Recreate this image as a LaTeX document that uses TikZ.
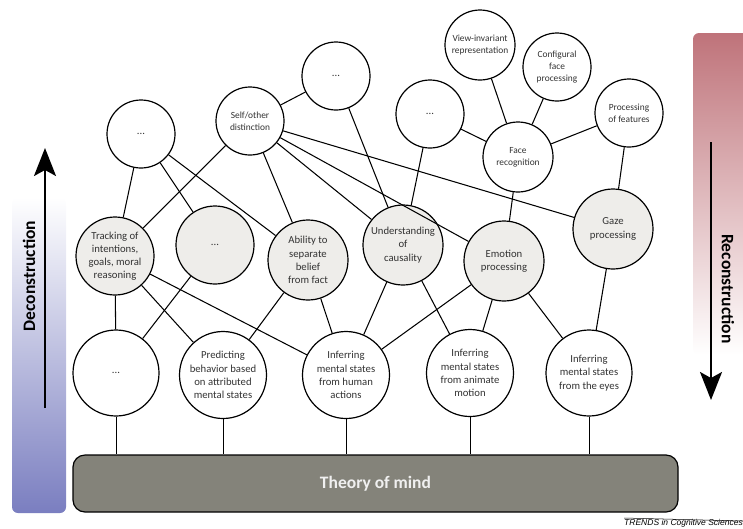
\documentclass[tikz,border=0pt]{standalone}
\usepackage{fontspec}
\setmainfont{Carlito}
\newfontfamily\trendsfont{Liberation Sans}
\usetikzlibrary{arrows.meta}
\definecolor{greyfill}{HTML}{EEEDEA}
\definecolor{boxfill}{HTML}{84837A}
\definecolor{leftblue}{HTML}{7A7EC0}
\definecolor{rightred}{HTML}{BF737A}
\definecolor{txt}{HTML}{333333}
\tikzset{
  nd/.style={circle, draw=black, line width=1.2pt, inner sep=0pt, align=center,
    text=txt, font=\fontsize{10.7}{13.2}\selectfont},
  wn/.style={nd, fill=white},
  gn/.style={nd, fill=greyfill},
  sm/.style={font=\fontsize{9.4}{12.3}\selectfont},
  edge/.style={line width=1.05pt},
  thinedge/.style={line width=0.9pt},
  bigarrow/.style={line width=2pt, -{Stealth[length=28pt, width=22pt, inset=6pt]}},
  sidetext/.style={font=\fontsize{17.5}{20}\selectfont\bfseries, text=black},
}
\begin{document}
\begin{tikzpicture}[x=1pt, y=-1pt]
\useasboundingbox (0,0) rectangle (743,528);
% side bars
\shade[top color=white, bottom color=leftblue, rounded corners=6pt] (12,197) rectangle (66,513);
\shade[top color=rightred, bottom color=white, rounded corners=6pt] (693,33) rectangle (752,355);
\draw[bigarrow] (45,408) -- (45,148);
\draw[bigarrow] (711,142) -- (711,400);
\node[sidetext, rotate=90] (dec) at (29,276) {Deconstruction};
\node[sidetext, rotate=-90] (rec) at (728,289) {Reconstruction};

% top level
\node[wn, minimum size=68pt] (dots1) at (141,134) {...};
\node[wn, sm, minimum size=68pt] (self) at (250,121) {Self/other\\distinction};
\node[wn, minimum size=68pt] (dots2) at (336,76) {...};
\node[wn, minimum size=68pt] (dots3) at (430,114) {...};
\node[wn, sm, minimum size=70pt] (view) at (480,45) {View-invariant\\representation};
\node[wn, sm, minimum size=68pt] (conf) at (557,67) {Configural\\face\\processing};
\node[wn, sm, minimum size=68pt] (feat) at (629,113) {Processing\\of features};
\node[wn, sm, minimum size=70pt] (face) at (518,157) {Face\\recognition};

% middle level
\node[gn, minimum size=78pt] (track) at (115,256) {Tracking of\\intentions,\\goals, moral\\reasoning};
\node[gn, minimum size=78pt] (gdots) at (215,245) {...};
\node[gn, minimum size=80pt] (abil) at (308,260) {Ability to\\separate\\belief\\from fact};
\node[gn, minimum size=80pt] (under) at (403,245) {Understanding\\of\\causality};
\node[gn, minimum size=80pt] (emo) at (504,261) {Emotion\\processing};
\node[gn, minimum size=80pt] (gaze) at (613,229) {Gaze\\processing};

% bottom level
\node[wn, minimum size=86pt] (dots4) at (116,373) {...};
\node[wn, minimum size=87pt] (pred) at (223,375) {Predicting\\behavior based\\on attributed\\mental states};
\node[wn, minimum size=87pt] (human) at (346,375) {Inferring\\mental states\\from human\\actions};
\node[wn, minimum size=87pt] (anim) at (470,373) {Inferring\\mental states\\from animate\\motion};
\node[wn, minimum size=86pt] (eyes) at (589,373) {Inferring\\mental states\\from the eyes};

% theory of mind
\node[draw=black, line width=1.2pt, fill=boxfill, rounded corners=12pt, minimum width=605pt,
  minimum height=57pt, inner sep=0pt, text=white!94!black,
  font=\fontsize{17.5}{20}\selectfont\bfseries] (tom) at (375.5,483.5) {Theory of mind};

% edges
\foreach \a/\b in {dots1/track, dots1/gdots, dots1/abil,
  self/track, self/abil, self/dots2, self/under, self/emo, self/gaze,
  dots2/under, dots3/under, dots3/face,
  face/view, face/conf, face/feat, face/emo, feat/gaze,
  track/dots4, track/pred, track/human, gdots/dots4,
  abil/pred, abil/human, under/human, under/anim,
  emo/human, emo/anim, emo/eyes, gaze/eyes}
  \draw[edge] (\a) -- (\b);
\foreach \a in {dots4, pred, human, anim, eyes}
  \draw[thinedge] (\a) -- (\a |- tom.north);

% credit
\node[anchor=north east, inner sep=0pt, font=\trendsfont\itshape\fontsize{8.5}{10}\selectfont] (cred) at (743,519.5) {TRENDS in Cognitive Sciences};
\draw[line width=0.5pt] (cred.north west) ++(0,-1.5) -- ([yshift=-1.5pt]cred.north east);
\end{tikzpicture}
\end{document}
